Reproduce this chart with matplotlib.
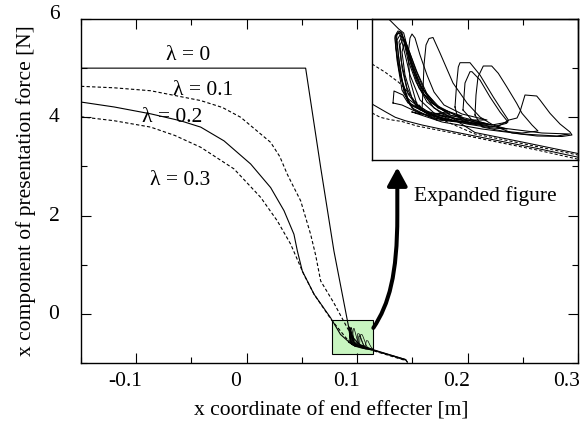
import matplotlib
matplotlib.use('Agg')
import matplotlib.pyplot as plt
from matplotlib.patches import Rectangle, FancyArrowPatch
from matplotlib.path import Path
from matplotlib.ticker import MultipleLocator
import matplotlib.transforms as mtransforms

plt.rcParams['font.family'] = ['Liberation Serif', 'DejaVu Serif']
plt.rcParams['font.size'] = 15.5
plt.rcParams['axes.unicode_minus'] = False

# ---------------- main curves (x [m], force [N]) ----------------
lam0_x = [-0.15, 0.0534, 0.067, 0.079, 0.0926, 0.097, 0.102, 0.1147, 0.1439, 0.1454]
lam0_y = [5.0, 5.0, 2.98, 1.28, -0.30, -0.50, -0.62, -0.73, -0.93, -0.98]

lam1_x = [-0.15, -0.12, -0.0869, -0.0416, -0.022, -0.0054, 0.0217, 0.030, 0.0368, 0.0428,
          0.0489, 0.0579, 0.0624, 0.067, 0.079, 0.091, 0.097, 0.103, 0.1147, 0.1439]
lam1_y = [4.63, 4.60, 4.54, 4.34, 4.20, 4.00, 3.49, 3.20, 2.84, 2.57,
          2.30, 1.62, 1.20, 0.67, 0.22, -0.28, -0.52, -0.64, -0.74, -0.94]

lam2_x = [-0.15, -0.12, -0.0869, -0.06, -0.0416, -0.0205, 0.0036, 0.0217, 0.0338, 0.0428,
          0.0459, 0.0504, 0.061, 0.076, 0.085, 0.094, 0.1147, 0.1439, 0.1454]
lam2_y = [4.31, 4.21, 4.07, 3.93, 3.80, 3.52, 3.05, 2.57, 2.10, 1.62,
          1.28, 0.87, 0.40, -0.08, -0.42, -0.60, -0.74, -0.93, -0.98]

lam3_x = [-0.15, -0.12, -0.0869, -0.065, -0.0416, -0.0115, 0.0127, 0.0278, 0.0398, 0.0516,
          0.061, 0.077, 0.094, 0.1147, 0.1439]
lam3_y = [4.01, 3.93, 3.80, 3.63, 3.39, 2.95, 2.37, 1.89, 1.42, 0.81,
          0.40, -0.13, -0.60, -0.75, -0.95]

lam_labels = ['λ = 0', 'λ = 0.1', 'λ = 0.2', 'λ = 0.3']
lam_label_x = [-0.0527, -0.0394, -0.0679, -0.0606]
lam_label_y = [5.26, 4.54, 3.99, 2.71]

x_ticks = [-0.1, 0, 0.1, 0.2, 0.3]
x_tick_labels = ['-0.1', '0', '0.1', '0.2', '0.3']
y_ticks = [0, 2, 4, 6]
y_tick_labels = ['0', '2', '4', '6']

# ---------------- expanded view curves (inset units) ----------------
in0_u = [16.7, 21.7, 26.7, 31.7, 36, 42, 50, 62, 80, 103, 150, 206]
in0_v = [141, 136, 131, 127, 110, 88, 68, 52, 42, 27.5, 18, 6.5]
in1_u = [0, 13.3, 26.7, 33.3, 40, 50, 62, 80, 103, 150, 206]
in1_v = [96, 87.7, 77.7, 71, 62, 52, 44, 36, 26, 16.5, 5.0]
in2_u = [0, 13.3, 23.3, 33.3, 50, 81.3, 131.3, 164.7, 206]
in2_v = [56, 48.3, 42.7, 39.3, 35, 28.3, 18.3, 11.7, 2.8]
in3_u = [0, 8.3, 18.3, 30, 45, 81, 131, 165, 206]
in3_v = [47, 42.7, 40.3, 38.5, 34, 27, 16.8, 10, 0.8]

# oscillation loops near the contact point
c1_u = [60, 40, 30, 25, 23, 25, 28, 32, 38, 48, 62, 80, 60]
c1_v = [42, 52, 70, 100, 122, 127, 126, 110, 85, 60, 47, 40, 42]
c2_u = [65, 42, 32, 27, 25, 28, 31, 36, 44, 55, 70, 95, 65]
c2_v = [40, 50, 68, 98, 120, 125, 122, 100, 78, 58, 46, 38, 40]
c3_u = [70, 45, 35, 29, 27, 30, 33, 40, 48, 60, 78, 110, 70]
c3_v = [41, 52, 72, 100, 118, 124, 120, 98, 75, 57, 45, 36, 41]
c4_u = [62, 38, 30, 26, 24, 27, 30, 35, 42, 52, 66, 90, 62]
c4_v = [44, 55, 80, 108, 124, 128, 127, 108, 88, 66, 52, 44, 44]
c5_u = [75, 48, 36, 30, 28, 31, 35, 43, 52, 64, 85, 120, 75]
c5_v = [40, 50, 66, 92, 115, 121, 115, 92, 70, 55, 44, 35, 40]
c6_u = [58, 36, 28, 24, 25, 29, 33, 39, 47, 58, 74, 58]
c6_v = [45, 58, 85, 112, 126, 127, 117, 95, 72, 58, 48, 45]
c7_u = [55, 35, 27, 23.5, 23, 26, 29, 34, 41, 50, 62, 78, 55]
c7_v = [47, 62, 90, 115, 124, 129, 128, 114, 93, 72, 56, 46, 47]
c8_u = [80, 52, 40, 33, 30, 32, 36, 45, 55, 68, 90, 80]
c8_v = [39, 48, 62, 85, 108, 116, 112, 88, 66, 52, 42, 39]
la_u = [45, 38, 36, 38, 40, 43, 48, 55, 62, 72, 90, 115, 90, 60, 45]
la_v = [55, 80, 105, 122, 126, 122, 105, 85, 68, 55, 46, 40, 40, 46, 55]
lb_u = [50, 51, 52, 54, 57, 61, 68, 81, 95, 108, 121, 135, 120, 95, 70, 55, 50]
lb_v = [50, 70, 95, 115, 121.5, 122.5, 107, 77, 57, 43, 35, 31, 32, 36, 42, 46, 50]
lc_u = [83, 84.7, 86.3, 88, 98, 108, 121.3, 129.7, 136.3, 134.7, 120, 100, 85, 83]
lc_v = [53, 77, 93, 97.3, 97.3, 85, 63, 50, 40, 36.7, 33, 36, 45, 53]
lc2_u = [91, 93, 98, 100, 108, 118, 128, 136, 120, 100, 91]
lc2_v = [50, 77, 88.3, 88.3, 80, 63, 48, 38, 35, 40, 50]
ld_u = [103, 104, 106, 111.3, 119.7, 126.3, 134.7, 144.7, 150, 160, 166, 150, 130, 110, 103]
ld_v = [45, 65, 83, 94, 94, 86.7, 73.3, 56.7, 46.7, 35, 29, 27, 29, 33, 45]
le_u = [125, 137, 145, 148, 153, 164.7, 168, 178, 188, 198, 200, 190, 165, 140, 125]
le_v = [33, 40, 42, 48.3, 65, 64, 60, 46.7, 36, 28, 25, 23.5, 24, 27, 33]
lf_u = [21, 22, 31, 36, 50, 80, 115, 100, 70, 45, 30, 21]
lf_v = [57, 69, 65, 57, 50, 42, 36, 36, 40, 48, 55, 57]
lg_u = [40, 80, 130, 170, 198, 185, 150, 110, 70, 40]
lg_v = [48, 40, 32, 27, 26, 24, 26, 31, 38, 48]

loops = [(c1_u, c1_v), (c2_u, c2_v), (c3_u, c3_v), (c4_u, c4_v), (c5_u, c5_v),
         (c6_u, c6_v), (c7_u, c7_v), (c8_u, c8_v), (la_u, la_v), (lb_u, lb_v),
         (lc_u, lc_v), (lc2_u, lc2_v), (ld_u, ld_v), (le_u, le_v), (lf_u, lf_v),
         (lg_u, lg_v)]

# ---------------- figure ----------------
fig = plt.figure(figsize=(5.87, 4.26), dpi=100)
fig.patch.set_facecolor('white')
ax = fig.add_axes([81 / 587, 63 / 426, 497 / 587, 344 / 426])
ax.set_zorder(2)
ax.patch.set_visible(False)
axin = fig.add_axes([372 / 587, 266 / 426, 206 / 587, 141 / 426])
axin.set_zorder(1)
axin.set_facecolor('white')

lw = 0.8
dash = (0, (3, 2))
ax.plot(lam0_x, lam0_y, color='black', lw=lw)
ax.plot(lam1_x, lam1_y, color='black', lw=lw, linestyle=dash)
ax.plot(lam2_x, lam2_y, color='black', lw=lw)
ax.plot(lam3_x, lam3_y, color='black', lw=lw, linestyle=dash)

# green highlight box
ax.add_patch(Rectangle((0.0776, -0.808), 0.0367, 0.673, facecolor='#c8f5c0',
                       edgecolor='black', lw=0.8, zorder=0.5))

# small copy of the oscillation loops inside the box
mini = mtransforms.Affine2D().scale(0.0001207, 0.004359).translate(0.0899, -0.829) + ax.transData
for u, v in loops:
    ax.plot(u, v, color='black', lw=0.5, transform=mini)

for t, x, y in zip(lam_labels, lam_label_x, lam_label_y):
    ax.text(x, y, t, ha='center', va='center')

ax.text(0.1514, 2.40, 'Expanded figure', ha='left', va='center')

# curved arrow
verts = [(0.1147, -0.286), (0.1290, 0.2), (0.1364, 0.8), (0.1364, 2.0), (0.1364, 2.98)]
codes = [Path.MOVETO, Path.CURVE4, Path.CURVE4, Path.CURVE4, Path.LINETO]
arrow = FancyArrowPatch(path=Path(verts, codes), arrowstyle='-|>,head_length=11,head_width=6',
                        mutation_scale=1, lw=2.9, color='black', transform=ax.transData,
                        shrinkA=0, shrinkB=0)
ax.add_patch(arrow)

ax.set_xlim(-0.15, 0.3)
ax.set_ylim(-1, 6)
ax.set_xticks(x_ticks)
ax.set_xticklabels(x_tick_labels)
ax.set_yticks(y_ticks)
ax.set_yticklabels(y_tick_labels)
ax.xaxis.set_minor_locator(MultipleLocator(0.05))
ax.yaxis.set_minor_locator(MultipleLocator(1))
ax.tick_params(which='both', direction='in', top=True, right=True, width=0.8, color='black')
ax.tick_params(which='major', length=7.5)
ax.tick_params(which='minor', length=4.3)
ax.tick_params(axis='x', which='major', pad=6.5)
ax.tick_params(axis='y', which='major', pad=15.5)
for s in ax.spines.values():
    s.set_linewidth(1.0)

# label offsets as in the reference (labels sit a little left / up of their ticks)
for tick in ax.xaxis.get_major_ticks():
    lab = tick.label1
    lab.set_transform(lab.get_transform() +
                      mtransforms.ScaledTranslation(-0.11, 0, fig.dpi_scale_trans))
for tick, txt in zip(ax.yaxis.get_major_ticks(), y_tick_labels):
    lab = tick.label1
    dy = 0.07 if txt == '6' else 0.02
    lab.set_transform(lab.get_transform() +
                      mtransforms.ScaledTranslation(0, dy, fig.dpi_scale_trans))

fig.text(331 / 587, 1 - 411 / 426, 'x coordinate of end effecter [m]', ha='center', va='center')
fig.text(26 / 587, 1 - 191 / 426, 'x component of presentation force [N]', ha='center',
         va='center', rotation=90)

# inset
lwi = 0.75
axin.plot(in0_u, in0_v, color='black', lw=lwi)
axin.plot(in1_u, in1_v, color='black', lw=lwi, linestyle=dash)
axin.plot(in2_u, in2_v, color='black', lw=lwi)
axin.plot(in3_u, in3_v, color='black', lw=lwi, linestyle=dash)
for u, v in loops:
    axin.plot(u, v, color='black', lw=lwi)
axin.set_xlim(0, 206)
axin.set_ylim(0, 141)
axin.set_xticks([])
axin.set_yticks([])
for s in axin.spines.values():
    s.set_linewidth(1.0)

fig.savefig('out.png', dpi=100)
